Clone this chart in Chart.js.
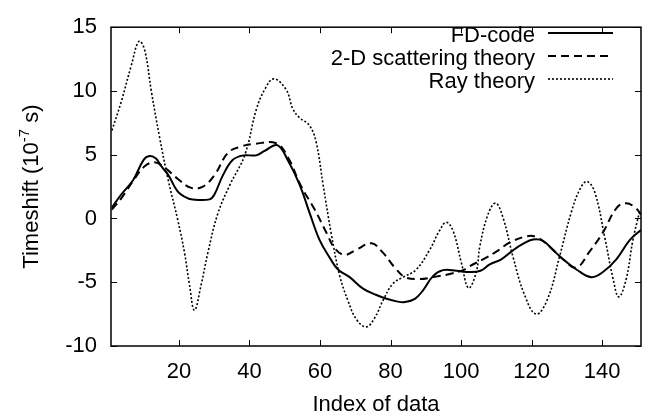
<!DOCTYPE html>
<html>
<head>
<meta charset="utf-8">
<script src="https://cdn.jsdelivr.net/npm/chart.js@4"></script>
<style>
  html, body { margin: 0; padding: 0; background: #fff; }
  #wrap { width: 659px; height: 418px; }
</style>
</head>
<body>
<div id="wrap"><canvas id="chart" width="659" height="418"></canvas></div>
<script>
// values
const fdIdx = [1, 3.7, 7, 10, 11.7, 13.5, 15, 17, 19.7, 22, 23.5, 28.7, 30.1, 32.5, 35.3, 38.3, 41.9, 44.3, 47.9, 51, 54.3, 57.1, 59.9, 62.8, 65.1, 68.4, 72.2, 76, 78.9, 81.7, 84.1, 86.9, 89.3, 92.1, 94.9, 98.7, 102.4, 105.5, 108.1, 111.4, 114.7, 117.5, 120.4, 123.2, 126, 128.9, 132.7, 136.9, 140.2, 144, 147.8, 151];
const fdVal = [0.85, 1.9, 3.0, 4.6, 4.9, 4.7, 4.1, 3.4, 2.1, 1.65, 1.5, 1.5, 1.9, 3.4, 4.6, 4.95, 4.95, 5.3, 5.75, 4.5, 2.6, 0.4, -1.7, -3.1, -4.0, -4.6, -5.5, -6.0, -6.3, -6.5, -6.55, -6.3, -5.6, -4.5, -4.05, -4.1, -4.2, -4.1, -3.6, -3.2, -2.5, -2.0, -1.65, -1.75, -2.45, -3.2, -4.0, -4.6, -4.2, -3.2, -1.7, -0.9];

const scatIdx = [1, 3.7, 7.4, 10.3, 13.1, 15.9, 19.7, 23.5, 26.8, 30.1, 33.9, 37.7, 41.4, 47.6, 50.9, 54.5, 58.5, 61.8, 64.2, 67, 70.3, 74.6, 77.9, 81.2, 84.1, 88.3, 92.1, 96.8, 100.6, 102.4, 106.2, 110, 113.7, 118.5, 121.3, 125.1, 128.9, 132.7, 136.4, 140.2, 144, 146.8, 149.6, 151];
const scatVal = [0.7, 1.6, 3.1, 4.1, 4.4, 4.0, 3.1, 2.4, 2.5, 3.4, 5.15, 5.65, 5.85, 5.9, 4.8, 2.6, 0.7, -1.1, -2.35, -2.85, -2.45, -1.95, -2.7, -3.85, -4.6, -4.75, -4.6, -4.35, -4.05, -3.75, -3.2, -2.6, -1.9, -1.4, -1.45, -2.2, -3.2, -3.85, -2.6, -1.1, 0.8, 1.2, 0.8, 0.3];

const rayIdx = [1, 3.7, 6.5, 8.7, 10.3, 12.2, 14.5, 16.9, 19.7, 21.6, 23, 24.4, 26.3, 28.2, 31, 34.4, 38.7, 42, 44.5, 46.9, 50.4, 52.3, 54.2, 57, 58.9, 60.9, 63.2, 65.6, 68, 70.3, 73.1, 75.5, 77.9, 80.7, 83.6, 87.3, 91.1, 93.9, 95.8, 97.7, 100.1, 102.1, 104.3, 105.3, 107.6, 109.8, 111.9, 114.7, 118, 121.3, 124.6, 127.9, 131.3, 133.7, 135.7, 137.9, 140.7, 143.1, 144.7, 146.8, 148.7, 150.6];
const rayVal = [6.9, 9.2, 12.0, 13.9, 13.2, 9.95, 6.4, 3.1, -0.15, -2.7, -5.2, -7.2, -5.2, -2.7, 0.35, 2.6, 5.0, 8.6, 10.2, 10.95, 10.1, 8.6, 7.9, 7.3, 6.0, 2.6, -1.2, -4.5, -6.5, -7.9, -8.5, -7.8, -6.4, -5.1, -4.6, -4.0, -2.45, -0.95, -0.3, -0.95, -3.5, -5.45, -4.2, -2.2, 0.3, 1.2, 0.05, -3.0, -6.0, -7.5, -6.25, -3.0, 0.55, 2.3, 2.9, 2.05, -1.45, -4.75, -6.15, -4.75, -1.7, 0.55];

const seriesNames = ["FD-code", "2-D scattering theory", "Ray theory"];
const xTicks = [20, 40, 60, 80, 100, 120, 140];
const yTicks = [-10, -5, 0, 5, 10, 15];

const FONT = '"Liberation Sans", Arial, Helvetica, sans-serif';
Chart.defaults.font.family = FONT;
Chart.defaults.color = "#000";

const pts = (xs, ys) => xs.map((x, i) => ({ x: x, y: ys[i] }));

// box, inward ticks, legend and axis titles
const frame = {
  id: "frame",
  afterDraw(chart) {
    const { ctx, chartArea: a, scales } = chart;
    ctx.save();
    ctx.strokeStyle = "#000";
    ctx.lineWidth = 1;
    ctx.beginPath();
    xTicks.forEach(v => {
      const px = Math.round(scales.x.getPixelForValue(v)) + 0.5;
      ctx.moveTo(px, a.bottom); ctx.lineTo(px, a.bottom - 6);
      ctx.moveTo(px, a.top); ctx.lineTo(px, a.top + 6);
    });
    yTicks.forEach(v => {
      const py = Math.round(scales.y.getPixelForValue(v)) + 0.5;
      ctx.moveTo(a.left, py); ctx.lineTo(a.left + 6, py);
      ctx.moveTo(a.right, py); ctx.lineTo(a.right - 6, py);
    });
    ctx.stroke();
    ctx.lineWidth = 1.5;
    ctx.strokeRect(a.left, a.top, a.right - a.left, a.bottom - a.top);

    // legend
    ctx.font = "22px " + FONT;
    ctx.fillStyle = "#000";
    ctx.textAlign = "right";
    ctx.textBaseline = "alphabetic";
    chart.data.datasets.forEach((ds, i) => {
      const base = 41.5 + i * 23;
      ctx.fillText(ds.label, 535, base);
      ctx.setLineDash(ds.borderDash || []);
      ctx.lineWidth = ds.borderWidth;
      ctx.beginPath();
      ctx.moveTo(548, base - 8.5);
      ctx.lineTo(613, base - 8.5);
      ctx.stroke();
    });
    ctx.setLineDash([]);

    // x title
    ctx.textAlign = "center";
    ctx.fillText("Index of data", (a.left + a.right) / 2, 411);

    // y title with superscript
    const cy = (a.top + a.bottom) / 2;
    ctx.translate(38, cy);
    ctx.rotate(-Math.PI / 2);
    ctx.textAlign = "left";
    const p1 = "Timeshift (10", sup = "-7", p2 = " s)";
    ctx.font = "22px " + FONT;
    const w1 = ctx.measureText(p1).width, w3 = ctx.measureText(p2).width;
    ctx.font = "15px " + FONT;
    const w2 = ctx.measureText(sup).width;
    let x0 = -(w1 + w2 + w3) / 2;
    ctx.font = "22px " + FONT;
    ctx.fillText(p1, x0, 0);
    ctx.font = "15px " + FONT;
    ctx.fillText(sup, x0 + w1, -9);
    ctx.font = "22px " + FONT;
    ctx.fillText(p2, x0 + w1 + w2, 0);
    ctx.restore();
  }
};

new Chart(document.getElementById("chart"), {
  type: "line",
  data: {
    datasets: [
      { label: seriesNames[0], data: pts(fdIdx, fdVal), borderColor: "#000", borderWidth: 2, borderDash: [], tension: 0.4, pointRadius: 0, fill: false },
      { label: seriesNames[1], data: pts(scatIdx, scatVal), borderColor: "#000", borderWidth: 2, borderDash: [8, 5], tension: 0.4, pointRadius: 0, fill: false },
      { label: seriesNames[2], data: pts(rayIdx, rayVal), borderColor: "#000", borderWidth: 1.6, borderDash: [2, 2], tension: 0.4, pointRadius: 0, fill: false }
    ]
  },
  options: {
    responsive: false,
    animation: false,
    layout: { padding: { left: 0, right: 18, top: 16, bottom: 0 } },
    plugins: { legend: { display: false }, tooltip: { enabled: false } },
    scales: {
      x: {
        type: "linear",
        min: 0.75,
        max: 151,
        afterBuildTicks: s => { s.ticks = xTicks.map(v => ({ value: v })); },
        afterFit: s => { s.height = 72; },
        grid: { display: false, drawTicks: false },
        border: { display: false },
        ticks: { font: { size: 22 }, padding: 13, maxRotation: 0 }
      },
      y: {
        min: -10,
        max: 15,
        afterBuildTicks: s => { s.ticks = yTicks.map(v => ({ value: v })); },
        afterFit: s => { s.width = 111; },
        grid: { display: false, drawTicks: false },
        border: { display: false },
        ticks: { font: { size: 22 }, padding: 14 }
      }
    }
  },
  plugins: [frame]
});
</script>
</body>
</html>
